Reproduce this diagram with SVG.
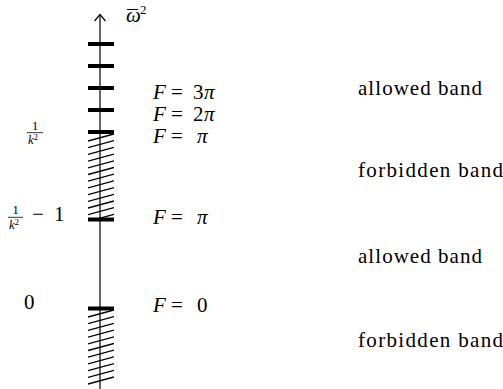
<svg xmlns="http://www.w3.org/2000/svg" width="503" height="389" viewBox="0 0 503 389" font-family="'Liberation Serif', 'Times New Roman', 'DejaVu Serif', serif">
<style>
text{font-family:'Liberation Serif','Times New Roman','DejaVu Serif',serif;fill:#000}
.m{font-size:21px}
.it{font-style:italic}
.s{font-size:12.5px}
.lbl{font-size:21px}
.tick{stroke:#000;stroke-width:4}
.hatch{stroke:#000;stroke-width:1.3}
.axis{stroke:#000;stroke-width:1.2;fill:none}
</style>
<defs>
<clipPath id="c1"><rect x="88" y="133" width="26" height="85"/></clipPath>
<clipPath id="c2"><rect x="88" y="309" width="26" height="80"/></clipPath>
</defs>
<rect width="503" height="389" fill="#fff"/>
<g id="hatching">
<g clip-path="url(#c1)">
<line x1="88" y1="141" x2="114" y2="134" class="hatch"/>
<line x1="88" y1="147.7" x2="114" y2="140.7" class="hatch"/>
<line x1="88" y1="154.4" x2="114" y2="147.4" class="hatch"/>
<line x1="88" y1="161.1" x2="114" y2="154.1" class="hatch"/>
<line x1="88" y1="167.8" x2="114" y2="160.8" class="hatch"/>
<line x1="88" y1="174.5" x2="114" y2="167.5" class="hatch"/>
<line x1="88" y1="181.2" x2="114" y2="174.2" class="hatch"/>
<line x1="88" y1="187.9" x2="114" y2="180.9" class="hatch"/>
<line x1="88" y1="194.6" x2="114" y2="187.6" class="hatch"/>
<line x1="88" y1="201.3" x2="114" y2="194.3" class="hatch"/>
<line x1="88" y1="208" x2="114" y2="201" class="hatch"/>
<line x1="88" y1="214.7" x2="114" y2="207.7" class="hatch"/>
<line x1="88" y1="221.4" x2="114" y2="214.4" class="hatch"/>
</g>
<g clip-path="url(#c2)">
<line x1="88" y1="317" x2="114" y2="310" class="hatch"/>
<line x1="88" y1="323.7" x2="114" y2="316.7" class="hatch"/>
<line x1="88" y1="330.4" x2="114" y2="323.4" class="hatch"/>
<line x1="88" y1="337.1" x2="114" y2="330.1" class="hatch"/>
<line x1="88" y1="343.8" x2="114" y2="336.8" class="hatch"/>
<line x1="88" y1="350.5" x2="114" y2="343.5" class="hatch"/>
<line x1="88" y1="357.2" x2="114" y2="350.2" class="hatch"/>
<line x1="88" y1="363.9" x2="114" y2="356.9" class="hatch"/>
<line x1="88" y1="370.6" x2="114" y2="363.6" class="hatch"/>
<line x1="88" y1="377.3" x2="114" y2="370.3" class="hatch"/>
<line x1="88" y1="384" x2="114" y2="377" class="hatch"/>
</g>
</g>
<g id="axis">
<line x1="100" y1="389" x2="100" y2="14.5" class="axis"/>
<polyline points="94.5,21 100,14.5 105.5,21" class="axis"/>
<text x="126" y="22" class="m it">ω</text>
<line x1="127" y1="9.5" x2="138" y2="9.5" stroke="#000" stroke-width="1"/>
<text x="140" y="14" font-size="13px">2</text>
</g>
<g id="ticks">
<line x1="88" y1="44" x2="114" y2="44" class="tick"/>
<line x1="88" y1="66" x2="114" y2="66" class="tick"/>
<line x1="88" y1="88" x2="114" y2="88" class="tick"/>
<line x1="88" y1="110" x2="114" y2="110" class="tick"/>
<line x1="88" y1="132" x2="114" y2="132" class="tick"/>
<line x1="88" y1="219.5" x2="114" y2="219.5" class="tick"/>
<line x1="88" y1="308.5" x2="114" y2="308.5" class="tick"/>
</g>
<g id="f-labels">
<text y="99" class="m"><tspan x="153" class="it">F</tspan><tspan x="171">=</tspan><tspan x="193">3</tspan><tspan x="204" class="it">π</tspan></text>
<text y="121" class="m"><tspan x="153" class="it">F</tspan><tspan x="171">=</tspan><tspan x="193">2</tspan><tspan x="204" class="it">π</tspan></text>
<text y="143" class="m"><tspan x="153" class="it">F</tspan><tspan x="171">=</tspan><tspan x="197" class="it">π</tspan></text>
<text y="224" class="m"><tspan x="153" class="it">F</tspan><tspan x="171">=</tspan><tspan x="197" class="it">π</tspan></text>
<text y="312" class="m"><tspan x="153" class="it">F</tspan><tspan x="171">=</tspan><tspan x="197">0</tspan></text>
</g>
<g id="left-labels">
<text x="35" y="129.5" class="s" text-anchor="middle">1</text>
<line x1="27" y1="132.7" x2="43" y2="132.7" stroke="#000" stroke-width="0.8"/>
<text x="28" y="143.5" class="s"><tspan class="it">k</tspan><tspan font-size="9" dy="-4">2</tspan></text>
<text x="15.5" y="214" class="s" text-anchor="middle">1</text>
<line x1="8" y1="217.3" x2="23" y2="217.3" stroke="#000" stroke-width="0.8"/>
<text x="9" y="228.5" class="s"><tspan class="it">k</tspan><tspan font-size="9" dy="-4">2</tspan></text>
<text y="221" class="m"><tspan x="32">−</tspan><tspan x="54">1</tspan></text>
<text x="24" y="309" class="m">0</text>
</g>
<g id="band-labels">
<text x="358" y="95" class="lbl" textLength="124" lengthAdjust="spacing">allowed band</text>
<text x="358" y="177" class="lbl" textLength="145" lengthAdjust="spacing">forbidden band</text>
<text x="358" y="263" class="lbl" textLength="124" lengthAdjust="spacing">allowed band</text>
<text x="358" y="347" class="lbl" textLength="145" lengthAdjust="spacing">forbidden band</text>
</g>
</svg>
